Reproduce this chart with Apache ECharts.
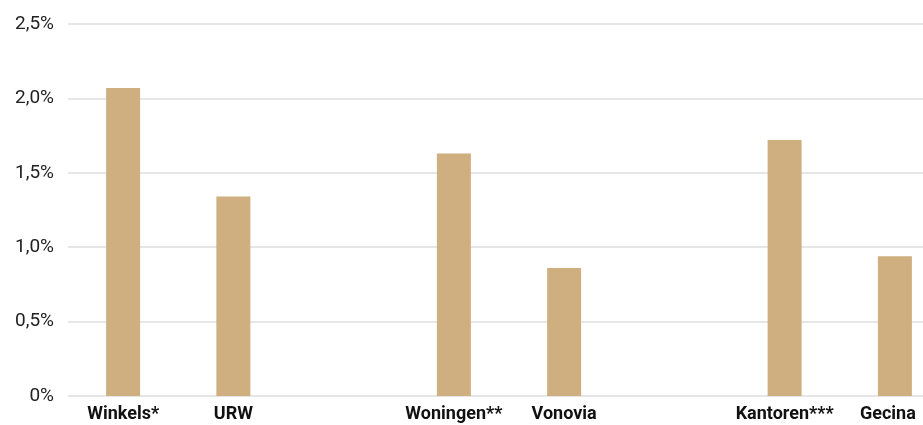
<!DOCTYPE html>
<html>
<head>
<meta charset="utf-8">
<script src="https://cdn.jsdelivr.net/npm/echarts@6/dist/echarts.min.js"></script>
<style>html,body{margin:0;padding:0;background:#fff;overflow:hidden;width:923px;height:425px;}#c{width:950px;height:425px;}</style>
</head>
<body>
<div id="c"></div>
<script>
const categories = ['Winkels*', 'URW', '', 'Woningen**', 'Vonovia', '', 'Kantoren***', 'Gecina'];
const values = [2.07, 1.34, null, 1.63, 0.86, null, 1.72, 0.94];
const yTicks = [0, 0.5, 1.0, 1.5, 2.0, 2.5];

const categoryData = categories.map((c, i) =>
  i === categories.length - 1 ? {value: c, textStyle: {padding: [0, 14, 0, 0]}} : c);

const chart = echarts.init(document.getElementById('c'), null, {renderer: 'canvas'});
chart.setOption({
  animation: false,
  backgroundColor: '#fff',
  grid: {left: 68, right: 0, top: 24, bottom: 29, containLabel: false},
  xAxis: {
    type: 'category',
    data: categoryData,
    axisLine: {show: false},
    axisTick: {show: false},
    axisLabel: {
      interval: 0,
      margin: 9,
      color: '#111',
      fontFamily: 'Roboto, sans-serif',
      fontWeight: 'bold',
      fontSize: 18
    }
  },
  yAxis: {
    type: 'value',
    min: yTicks[0],
    max: yTicks[yTicks.length - 1],
    interval: 0.5,
    axisLine: {show: false},
    axisTick: {show: false},
    splitLine: {lineStyle: {color: '#dedede', width: 1.5}},
    axisLabel: {
      margin: 14,
      color: '#222',
      fontFamily: 'Roboto, sans-serif',
      fontSize: 19,
      formatter: v => v === 0 ? '0%' : v.toFixed(1).replace('.', ',') + '%'
    }
  },
  series: [{
    type: 'bar',
    data: values,
    barWidth: 34,
    itemStyle: {color: '#CFAE7F'}
  }]
});
</script>
</body>
</html>
